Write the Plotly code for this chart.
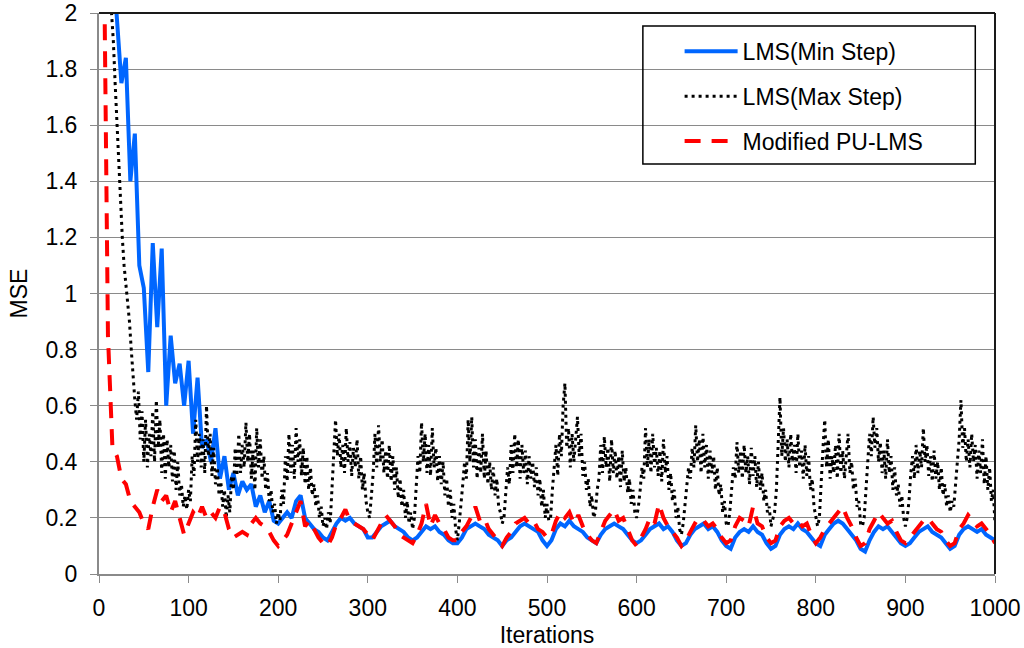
import plotly.graph_objects as go

# Iterations sampled every 5 steps (Min Step LMS and Modified PU-LMS)
iterations = list(range(0, 1001, 5))
# Iterations sampled every 2 steps (Max Step LMS, which is noisier)
iterations_max = list(range(0, 1001, 2))

lms_min_step = [
    3.5, 3.0, 2.6, 2.2, 1.98, 1.75, 1.84, 1.4, 1.57, 1.1,
    1.02, 0.72, 1.18, 0.88, 1.16, 0.6, 0.85, 0.68, 0.75, 0.6,
    0.76, 0.5, 0.7, 0.45, 0.48, 0.4, 0.52, 0.34, 0.42, 0.3,
    0.36, 0.28, 0.33, 0.3, 0.32, 0.24, 0.28, 0.22, 0.26, 0.19,
    0.18, 0.2, 0.22, 0.2, 0.26, 0.28, 0.2, 0.18, 0.16, 0.15,
    0.13, 0.12, 0.15, 0.18, 0.2, 0.19, 0.2, 0.18, 0.17, 0.16,
    0.13, 0.13, 0.15, 0.17, 0.18, 0.19, 0.17, 0.16, 0.15, 0.13,
    0.12, 0.13, 0.15, 0.17, 0.16, 0.17, 0.15, 0.14, 0.12, 0.11,
    0.11, 0.13, 0.16, 0.17, 0.18, 0.17, 0.16, 0.14, 0.13, 0.12,
    0.1, 0.12, 0.13, 0.15, 0.17, 0.18, 0.17, 0.16, 0.15, 0.12,
    0.1, 0.12, 0.16, 0.18, 0.17, 0.19, 0.17, 0.16, 0.15, 0.13,
    0.12, 0.11, 0.14, 0.16, 0.17, 0.18, 0.17, 0.16, 0.14, 0.12,
    0.11, 0.12, 0.14, 0.16, 0.17, 0.18, 0.16, 0.17, 0.15, 0.12,
    0.1, 0.11, 0.14, 0.16, 0.17, 0.18, 0.16, 0.17, 0.15, 0.12,
    0.1, 0.09, 0.13, 0.15, 0.16, 0.15, 0.17, 0.15, 0.14, 0.11,
    0.09, 0.1, 0.14, 0.16, 0.17, 0.16, 0.18, 0.16, 0.15, 0.13,
    0.11, 0.1, 0.14, 0.16, 0.18, 0.19, 0.18, 0.16, 0.14, 0.12,
    0.09, 0.08, 0.12, 0.15, 0.17, 0.16, 0.17, 0.15, 0.13, 0.11,
    0.1, 0.11, 0.13, 0.15, 0.16, 0.17, 0.15, 0.14, 0.13, 0.11,
    0.09, 0.1, 0.14, 0.16, 0.17, 0.16, 0.15, 0.16, 0.14, 0.13,
    0.12,
]

lms_max_step = [
    3.2, 3.0, 2.8, 2.6, 2.4, 2.25, 2.1, 2.0, 1.9, 1.75, 1.6, 1.45, 1.3, 1.2, 1.1, 1.03, 0.98, 0.9, 0.8, 0.7, 0.62, 0.55, 0.65, 0.48, 0.58,
    0.4, 0.55, 0.38, 0.5, 0.42, 0.58, 0.4, 0.62, 0.45, 0.55, 0.36, 0.5, 0.34, 0.48, 0.38, 0.46, 0.33, 0.44, 0.3, 0.4, 0.28, 0.32, 0.24, 0.28, 0.23,
    0.3, 0.26, 0.42, 0.35, 0.55, 0.4, 0.5, 0.38, 0.48, 0.36, 0.6, 0.42, 0.5, 0.35, 0.45, 0.32, 0.38, 0.28, 0.33, 0.24, 0.3, 0.2, 0.28, 0.22, 0.35,
    0.3, 0.45, 0.35, 0.5, 0.36, 0.46, 0.38, 0.54, 0.4, 0.5, 0.34, 0.44, 0.3, 0.52, 0.38, 0.48, 0.34, 0.42, 0.3, 0.36, 0.26, 0.3, 0.22, 0.25, 0.18,
    0.22, 0.19, 0.3, 0.25, 0.42, 0.33, 0.5, 0.36, 0.46, 0.34, 0.52, 0.4, 0.48, 0.35, 0.45, 0.32, 0.42, 0.3, 0.38, 0.28, 0.32, 0.24, 0.28, 0.2, 0.24,
    0.17, 0.2, 0.16, 0.22, 0.18, 0.3, 0.38, 0.55, 0.42, 0.5, 0.38, 0.46, 0.36, 0.52, 0.4, 0.47, 0.35, 0.45, 0.38, 0.48, 0.34, 0.42, 0.3, 0.36, 0.26,
    0.22, 0.2, 0.28, 0.36, 0.5, 0.38, 0.53, 0.4, 0.48, 0.36, 0.44, 0.34, 0.46, 0.33, 0.42, 0.3, 0.38, 0.27, 0.34, 0.24, 0.3, 0.2, 0.26, 0.18, 0.22,
    0.16, 0.2, 0.3, 0.42, 0.36, 0.54, 0.4, 0.5, 0.36, 0.46, 0.35, 0.52, 0.38, 0.45, 0.33, 0.42, 0.32, 0.4, 0.28, 0.34, 0.24, 0.3, 0.2, 0.25, 0.16,
    0.12, 0.18, 0.24, 0.32, 0.4, 0.34, 0.55, 0.4, 0.56, 0.38, 0.48, 0.34, 0.45, 0.36, 0.5, 0.34, 0.44, 0.32, 0.4, 0.3, 0.38, 0.28, 0.34, 0.24, 0.22,
    0.18, 0.2, 0.28, 0.38, 0.32, 0.46, 0.36, 0.5, 0.38, 0.48, 0.34, 0.46, 0.36, 0.44, 0.32, 0.42, 0.34, 0.4, 0.31, 0.38, 0.28, 0.34, 0.24, 0.3, 0.2,
    0.25, 0.19, 0.2, 0.3, 0.38, 0.46, 0.35, 0.5, 0.42, 0.6, 0.68, 0.45, 0.52, 0.38, 0.5, 0.4, 0.48, 0.56, 0.42, 0.5, 0.35, 0.4, 0.3, 0.34, 0.24,
    0.28, 0.2, 0.22, 0.3, 0.34, 0.46, 0.36, 0.49, 0.38, 0.45, 0.33, 0.48, 0.36, 0.44, 0.34, 0.42, 0.31, 0.44, 0.33, 0.38, 0.29, 0.34, 0.25, 0.3, 0.22,
    0.2, 0.24, 0.3, 0.38, 0.34, 0.52, 0.38, 0.48, 0.36, 0.5, 0.38, 0.45, 0.35, 0.44, 0.33, 0.48, 0.36, 0.42, 0.3, 0.36, 0.26, 0.3, 0.2, 0.24, 0.16,
    0.14, 0.18, 0.24, 0.3, 0.38, 0.34, 0.45, 0.38, 0.53, 0.4, 0.48, 0.36, 0.5, 0.38, 0.46, 0.34, 0.44, 0.36, 0.42, 0.3, 0.38, 0.28, 0.32, 0.22, 0.26,
    0.18, 0.17, 0.22, 0.3, 0.38, 0.34, 0.47, 0.36, 0.44, 0.34, 0.46, 0.36, 0.42, 0.32, 0.45, 0.35, 0.42, 0.31, 0.4, 0.3, 0.36, 0.26, 0.3, 0.22, 0.24,
    0.17, 0.2, 0.22, 0.3, 0.45, 0.63, 0.42, 0.52, 0.4, 0.48, 0.38, 0.5, 0.4, 0.46, 0.36, 0.5, 0.38, 0.44, 0.34, 0.46, 0.35, 0.42, 0.3, 0.34, 0.24,
    0.2, 0.17, 0.2, 0.35, 0.45, 0.55, 0.38, 0.48, 0.34, 0.42, 0.36, 0.46, 0.34, 0.5, 0.36, 0.44, 0.34, 0.42, 0.5, 0.36, 0.4, 0.3, 0.34, 0.24, 0.26,
    0.18, 0.17, 0.2, 0.3, 0.4, 0.5, 0.42, 0.56, 0.45, 0.52, 0.4, 0.47, 0.36, 0.44, 0.34, 0.48, 0.36, 0.42, 0.3, 0.38, 0.28, 0.32, 0.24, 0.28, 0.2,
    0.17, 0.2, 0.26, 0.36, 0.42, 0.34, 0.46, 0.36, 0.44, 0.38, 0.52, 0.4, 0.46, 0.35, 0.42, 0.33, 0.44, 0.34, 0.4, 0.3, 0.38, 0.28, 0.32, 0.24, 0.28,
    0.22, 0.26, 0.24, 0.32, 0.4, 0.48, 0.62, 0.45, 0.52, 0.4, 0.48, 0.38, 0.5, 0.4, 0.46, 0.34, 0.44, 0.36, 0.48, 0.32, 0.42, 0.3, 0.38, 0.26, 0.3,
    0.18,
]

modified_pu_lms = [
    3.5, 2.4, 0.85, 0.45, 0.42, 0.34, 0.32, 0.26, 0.24, 0.22,
    0.18, 0.16, 0.24, 0.3, 0.26, 0.28, 0.22, 0.26, 0.2, 0.14,
    0.18, 0.22, 0.2, 0.24, 0.2, 0.22, 0.2, 0.24, 0.22, 0.16,
    0.13, 0.14, 0.15, 0.14, 0.18, 0.2, 0.18, 0.17, 0.15, 0.12,
    0.1, 0.12, 0.14, 0.18, 0.22, 0.26, 0.17, 0.19, 0.16, 0.13,
    0.11, 0.1, 0.13, 0.18, 0.2, 0.23, 0.19, 0.18, 0.17, 0.16,
    0.14, 0.12, 0.15, 0.18, 0.21, 0.19, 0.17, 0.14, 0.13, 0.12,
    0.11, 0.14, 0.18, 0.25, 0.17, 0.21, 0.18, 0.16, 0.13, 0.12,
    0.12, 0.15, 0.17, 0.2, 0.24, 0.19, 0.2, 0.16, 0.14, 0.12,
    0.1, 0.13, 0.15, 0.18, 0.19, 0.2, 0.18, 0.19, 0.16, 0.15,
    0.13, 0.14, 0.19, 0.22, 0.2, 0.22, 0.18, 0.21, 0.17, 0.14,
    0.12, 0.11, 0.15, 0.19, 0.21, 0.23, 0.19, 0.2, 0.16, 0.12,
    0.1, 0.13, 0.16, 0.2, 0.18, 0.25, 0.2, 0.17, 0.15, 0.13,
    0.1, 0.12, 0.15, 0.18, 0.17, 0.19, 0.17, 0.18, 0.16, 0.13,
    0.11, 0.12, 0.17, 0.2, 0.19, 0.17, 0.24, 0.18, 0.17, 0.13,
    0.11, 0.12, 0.17, 0.19, 0.2, 0.18, 0.19, 0.17, 0.18, 0.14,
    0.11, 0.13, 0.16, 0.18, 0.2, 0.22, 0.24, 0.2, 0.17, 0.13,
    0.1, 0.11, 0.16, 0.19, 0.22, 0.2, 0.18, 0.19, 0.15, 0.12,
    0.11, 0.13, 0.15, 0.17, 0.19, 0.2, 0.18, 0.16, 0.15, 0.12,
    0.1, 0.11, 0.16, 0.18, 0.21, 0.19, 0.17, 0.18, 0.16, 0.14,
    0.11,
]

x_ticks = list(range(0, 1001, 100))
y_ticks = [round(0.2 * i, 1) for i in range(11)]

FONT = "Liberation Sans, Arial, sans-serif"
GRID = "#8a8a8a"

fig = go.Figure()
fig.add_trace(go.Scatter(
    x=iterations, y=lms_min_step, mode="lines", name="LMS(Min Step)",
    legendgroup="a", line=dict(color="#0066FF", width=4),
))
fig.add_trace(go.Scatter(
    x=iterations_max, y=lms_max_step, mode="lines", name="LMS(Max Step)",
    legendgroup="b", line=dict(color="#000000", width=3, dash="3px,4px"),
))
fig.add_trace(go.Scatter(
    x=iterations, y=modified_pu_lms, mode="lines", name="Modified PU-LMS",
    legendgroup="c", line=dict(color="#FF0000", width=4, dash="16px,11px"),
))

fig.update_layout(
    width=1024, height=648,
    margin=dict(l=99, r=29, t=13, b=74),
    paper_bgcolor="white", plot_bgcolor="white",
    font=dict(family=FONT, size=23, color="black"),
    showlegend=True,
    legend=dict(
        x=0.648, y=0.97, xanchor="left", yanchor="top",
        bgcolor="rgba(0,0,0,0)", borderwidth=0,
        font=dict(family=FONT, size=23, color="black"),
        itemwidth=53, tracegroupgap=12,
    ),
    xaxis=dict(
        range=[0, 1000], tickvals=x_ticks, ticktext=[str(v) for v in x_ticks],
        showgrid=False, zeroline=False, automargin=False,
        showline=True, linecolor=GRID, linewidth=2,
        ticks="outside", ticklen=7, tickcolor=GRID, tickwidth=1,
        tickfont=dict(family=FONT, size=23, color="black"),
        ticklabelstandoff=5,
        title=dict(text="Iterations", font=dict(family=FONT, size=23, color="black"), standoff=8),
    ),
    yaxis=dict(
        range=[0, 2], tickvals=y_ticks,
        ticktext=[("%g" % v) for v in y_ticks],
        showgrid=True, gridcolor=GRID, gridwidth=1, zeroline=False, automargin=False,
        showline=True, linecolor=GRID, linewidth=2,
        ticks="outside", ticklen=7, tickcolor=GRID, tickwidth=1,
        tickfont=dict(family=FONT, size=23, color="black"),
        ticklabelstandoff=8,
        title=dict(text="MSE", font=dict(family=FONT, size=23, color="black"), standoff=11),
    ),
    shapes=[
        dict(type="line", xref="paper", yref="paper", x0=0, x1=1, y0=1, y1=1,
             line=dict(color="#1a1a1a", width=2)),
        dict(type="line", xref="paper", yref="paper", x0=1, x1=1, y0=0, y1=1,
             line=dict(color="#1a1a1a", width=2)),
        dict(type="rect", xref="paper", yref="paper", x0=0.607, x1=0.978, y0=0.731, y1=0.977,
             line=dict(color="black", width=1.5), fillcolor="rgba(0,0,0,0)", layer="above"),
    ],
)

fig.write_html(
    "out.html",
    config={"displayModeBar": False},
    post_script="document.body.style.margin='0';document.body.style.overflow='hidden';",
)
